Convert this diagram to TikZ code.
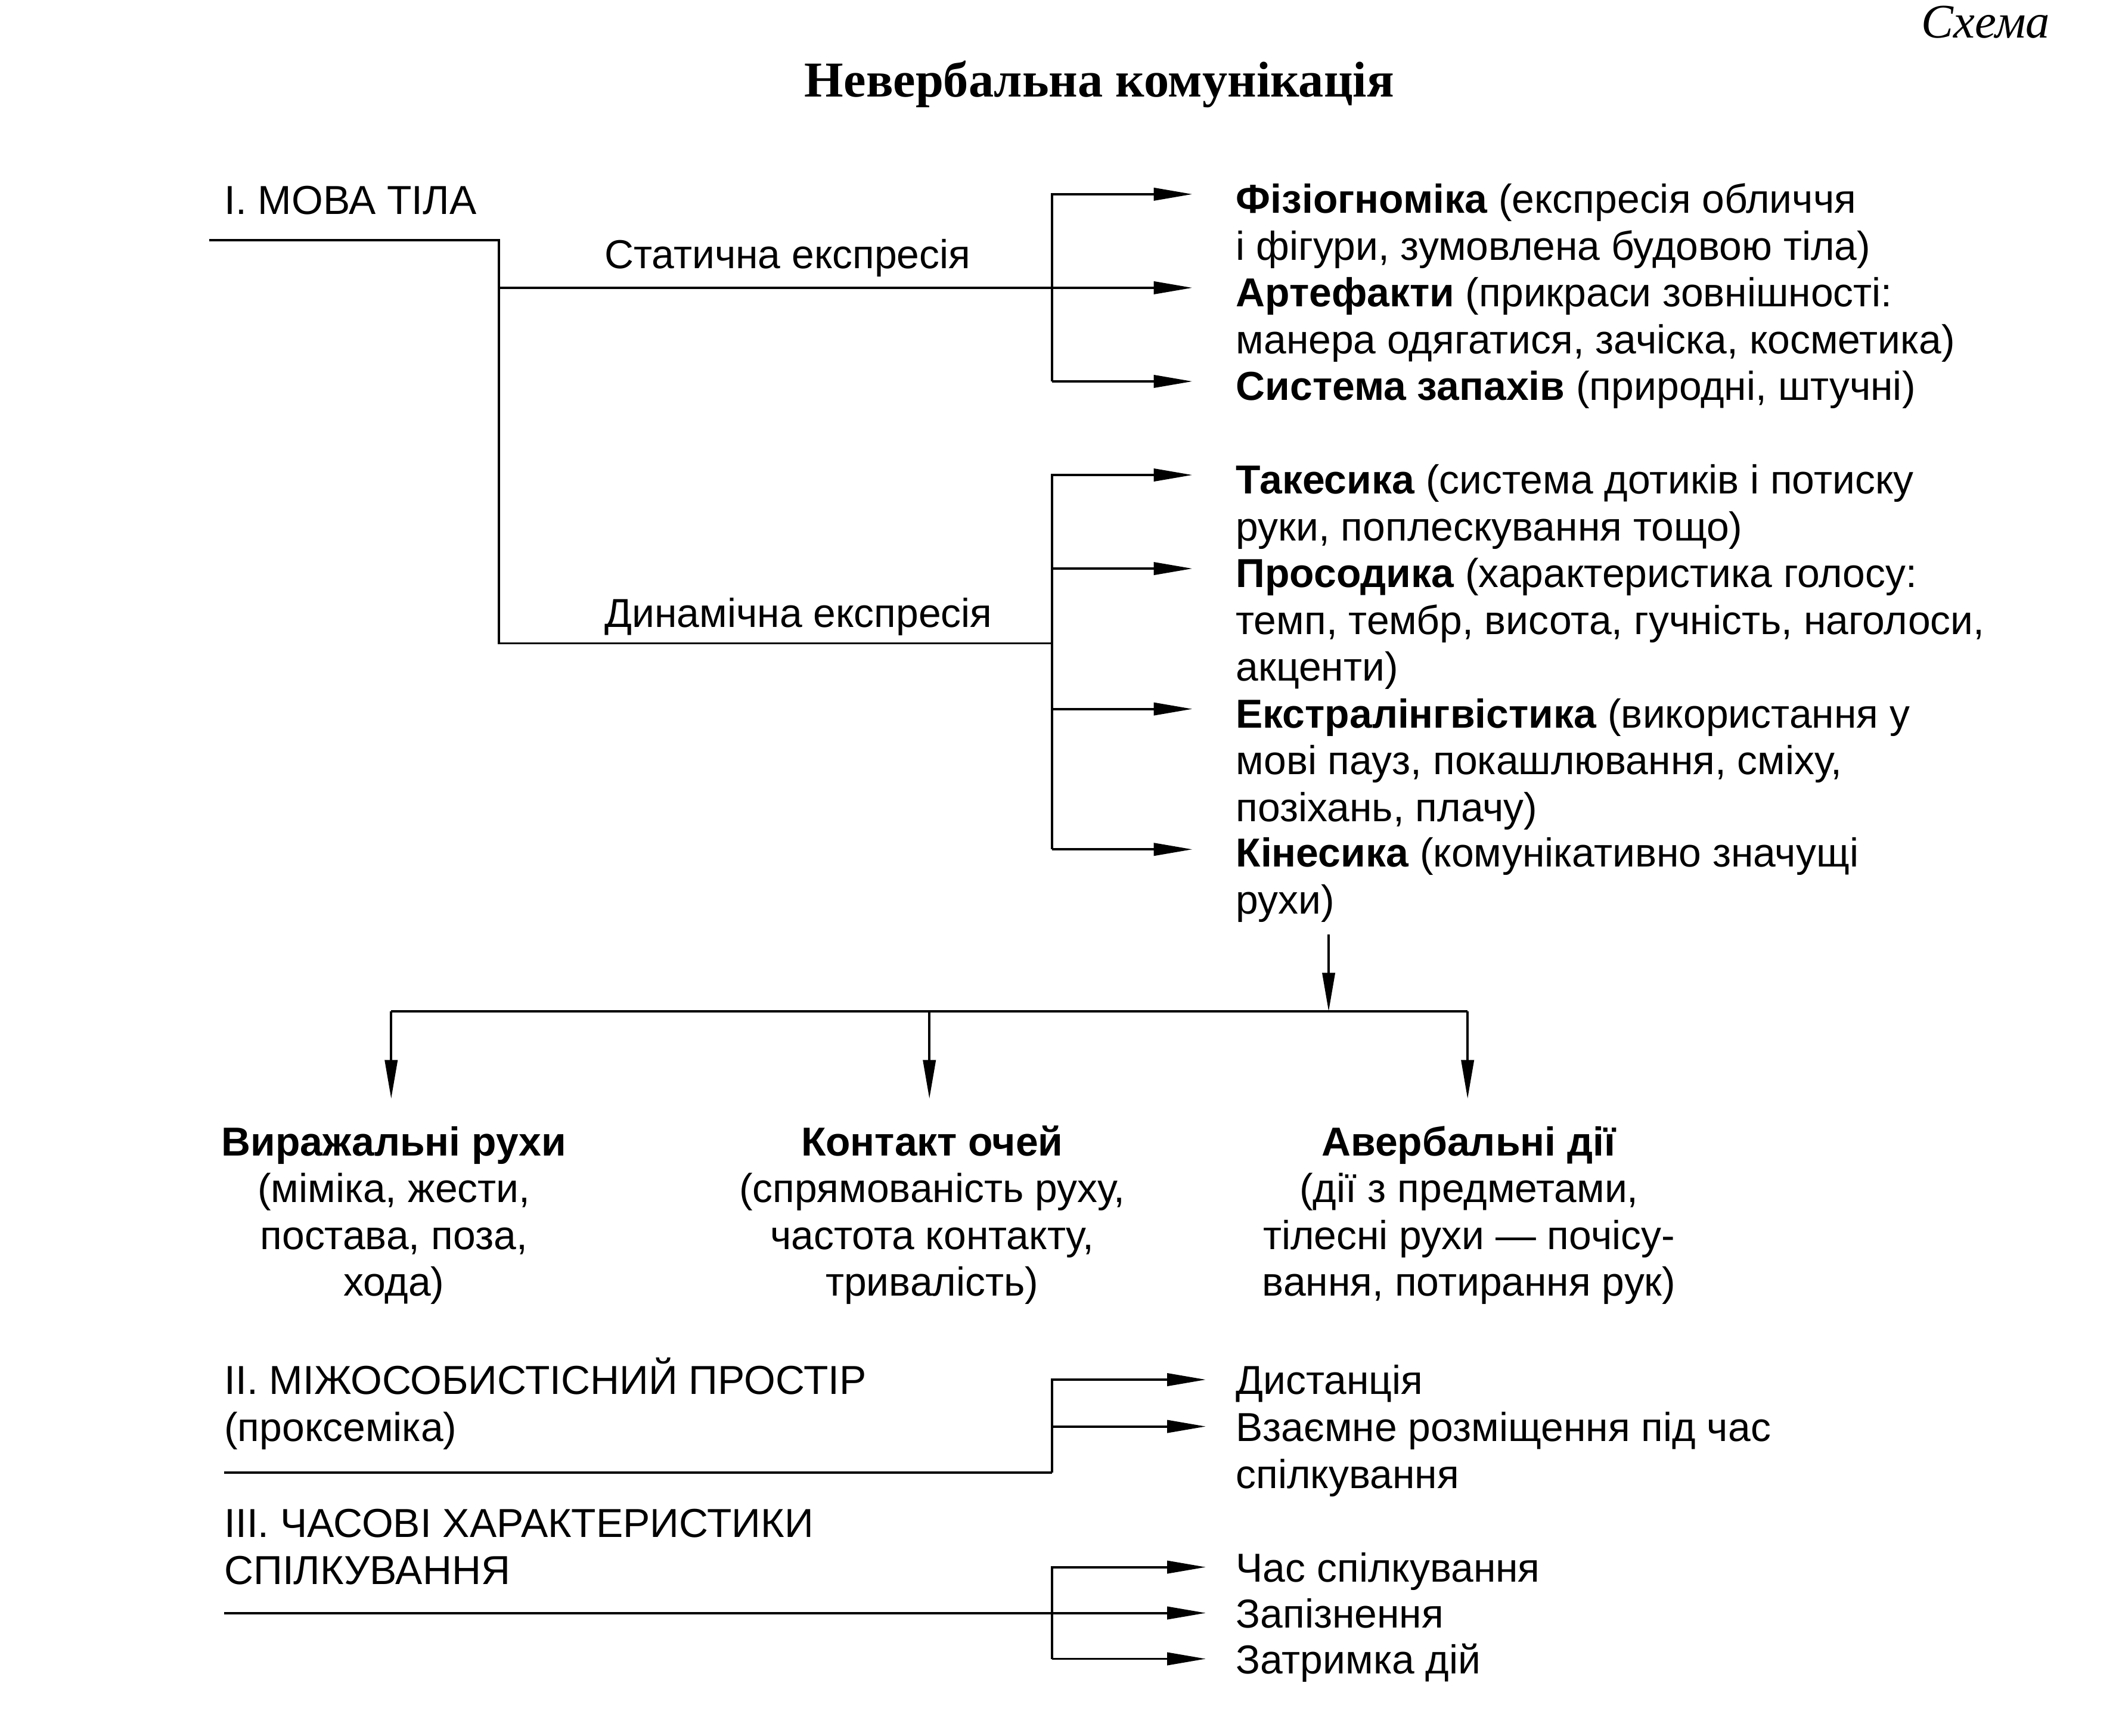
\documentclass[tikz,border=0pt]{standalone}
\usepackage{fontspec}
\setmainfont{Liberation Sans}
\newfontfamily\serifcap{Liberation Serif}
\usetikzlibrary{arrows.meta, calc}

\newcommand{\rows}[2][l]{\begin{tabular}[t]{@{}#1@{}}#2\end{tabular}}

\tikzset{
   txt/.style={anchor=base west, inner sep=0pt, font=\fontsize{19.3}{22.34}\selectfont},
   ctxt/.style={anchor=base, inner sep=0pt, font=\fontsize{19.3}{22.34}\selectfont},
   ln/.style={line width=1.1pt},
   arr/.style={line width=1.1pt, -{Triangle[length=0.65cm, width=0.21cm]}},
}

\begin{document}
\begin{tikzpicture}[x=0.02263cm, y=-0.02263cm]
   \useasboundingbox (0,0) rectangle (1568.7,1286.8);

   \node (sch) at (1520,28) [anchor=base east, inner sep=0pt,
      font=\serifcap\itshape\fontsize{23}{27}\selectfont] {Схема};
   \node (title) at (815,72) [anchor=base, inner sep=0pt,
      font=\serifcap\bfseries\fontsize{24}{28}\selectfont] {Невербальна комунікація};

   \node (mova) at (166,159) [txt] {I. МОВА ТІЛА};
   \node (stat) at (448,199) [txt] {Статична експресія};
   \node (dyn) at (448,465) [txt] {Динамічна експресія};

   \node (fiz) at (916,158) [txt]
      {\rows{\textbf{Фізіогноміка} (експресія обличчя\\і фігури, зумовлена будовою тіла)}};
   \node (art) at (916,227.4) [txt]
      {\rows{\textbf{Артефакти} (прикраси зовнішності:\\манера одягатися, зачіска, косметика)}};
   \node (zap) at (916,296.8) [txt] {\textbf{Система запахів} (природні, штучні)};
   \node (tak) at (916,366.2) [txt]
      {\rows{\textbf{Такесика} (система дотиків і потиску\\руки, поплескування тощо)}};
   \node (pros) at (916,435.6) [txt]
      {\rows{\textbf{Просодика} (характеристика голосу:\\темп, тембр, висота, гучність, наголоси,\\акценти)}};
   \node (ekst) at (916,539.7) [txt]
      {\rows{\textbf{Екстралінгвістика} (використання у\\мові пауз, покашлювання, сміху,\\позіхань, плачу)}};
   \node (kin) at (916,642.8) [txt]
      {\rows{\textbf{Кінесика} (комунікативно значущі\\рухи)}};

   \coordinate (m0) at (155,178);
   \coordinate (m1) at (370,178);
   \coordinate (m2) at (370,477);
   \coordinate (d0) at (780,477);
   \coordinate (tfiz) at ($(fiz.base west)+(-32,-14)$);
   \coordinate (tart) at ($(art.base west)+(-32,-14)$);
   \coordinate (tzap) at ($(zap.base west)+(-32,-14)$);
   \coordinate (ttak) at ($(tak.base west)+(-32,-14)$);
   \coordinate (tpros) at ($(pros.base west)+(-32,-14)$);
   \coordinate (tekst) at ($(ekst.base west)+(-32,-14)$);
   \coordinate (tkin) at ($(kin.base west)+(-32,-13)$);

   \draw [ln] (m0) -- (m1) -- (m2) -- (d0);
   \draw [arr] (m1 |- tart) -- (tart);
   \draw [arr] (tzap -| d0) |- (tfiz);
   \draw [arr] (tzap -| d0) -- (tzap);
   \draw [arr] (tkin -| d0) |- (ttak);
   \draw [arr] (tpros -| d0) -- (tpros);
   \draw [arr] (tekst -| d0) -- (tekst);
   \draw [arr] (tkin -| d0) -- (tkin);

   \node (vyr) at (292,857) [ctxt]
      {\rows[c]{\textbf{Виражальні рухи}\\(міміка, жести,\\постава, поза,\\хода)}};
   \node (kont) at (691,857) [ctxt]
      {\rows[c]{\textbf{Контакт очей}\\(спрямованість руху,\\частота контакту,\\тривалість)}};
   \node (aver) at (1089,857) [ctxt]
      {\rows[c]{\textbf{Авербальні дії}\\(дії з предметами,\\тілесні рухи — почісу-\\вання, потирання рук)}};

   \coordinate (k0) at (985,693);
   \coordinate (h1) at (290,750);
   \coordinate (h2) at (689,750);
   \coordinate (h3) at (1088,750);
   \draw [arr] (k0) -- (k0 |- h1);
   \draw [ln] (h1) -- (h3);
   \draw [arr, shorten >=0.4cm] (h1) -- (h1 |- vyr.north);
   \draw [arr, shorten >=0.4cm] (h2) -- (h2 |- kont.north);
   \draw [arr, shorten >=0.4cm] (h3) -- (h3 |- aver.north);

   \node (mizh) at (166,1034) [txt] {\rows{II. МІЖОСОБИСТІСНИЙ ПРОСТІР\\(проксеміка)}};
   \node (dist) at (916,1034) [txt] {Дистанція};
   \node (vzaem) at (916,1068.7) [txt] {\rows{Взаємне розміщення під час\\спілкування}};

   \coordinate (p0) at (166,1092);
   \coordinate (p1) at (780,1092);
   \coordinate (tdist) at ($(dist.base west)+(-22,-11)$);
   \coordinate (tvz) at ($(vzaem.base west)+(-22,-11)$);
   \draw [ln] (p0) -- (p1);
   \draw [arr] (p1) |- (tdist);
   \draw [arr] (tvz -| p1) -- (tvz);

   \node (chas) at (166,1140) [txt] {\rows{III. ЧАСОВІ ХАРАКТЕРИСТИКИ\\СПІЛКУВАННЯ}};
   \node (chsp) at (916,1173) [txt] {Час спілкування};
   \node (zapiz) at (916,1207) [txt] {Запізнення};
   \node (zatr) at (916,1241) [txt] {Затримка дій};

   \coordinate (tchsp) at ($(chsp.base west)+(-22,-11)$);
   \coordinate (tzapiz) at ($(zapiz.base west)+(-22,-11)$);
   \coordinate (tzatr) at ($(zatr.base west)+(-22,-11)$);
   \draw [arr] (tzapiz -| p0) -- (tzapiz);
   \draw [arr] (tzatr -| p1) |- (tchsp);
   \draw [arr] (tzatr -| p1) -- (tzatr);
\end{tikzpicture}
\end{document}
